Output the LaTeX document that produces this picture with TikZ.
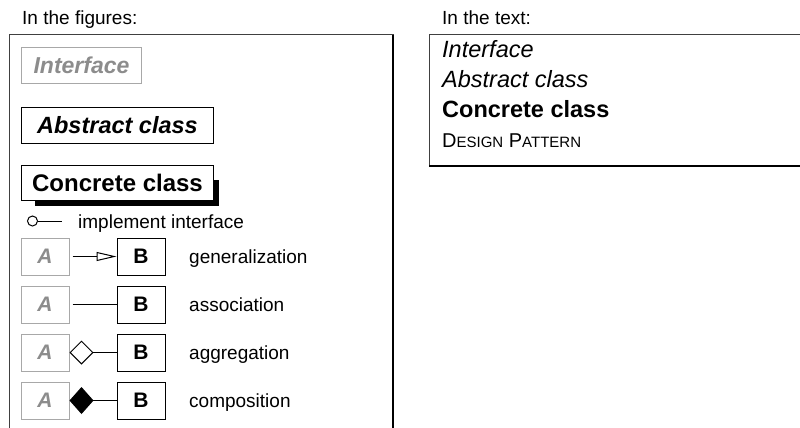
\documentclass[tikz,border=0pt]{standalone}
\usepackage{fontspec}
\setmainfont{Liberation Sans}
\usepackage{tikz}
\usetikzlibrary{arrows.meta, positioning, backgrounds, calc}
\definecolor{ifacegray}{HTML}{8C8C8C}
\definecolor{ifaceline}{HTML}{A8A8A8}

\begin{document}
\begin{tikzpicture}[x=1pt, y=-1pt,
    heading/.style={anchor=base west, inner sep=0pt, font=\fontsize{19}{22}\selectfont},
    iface/.style={draw=ifaceline, text=ifacegray, line width=1pt, minimum height=36pt,
                  anchor=north west, font=\fontsize{23}{26}\selectfont\bfseries\itshape},
    absclass/.style={draw, line width=1pt, fill=white, minimum height=36pt,
                     anchor=north west, font=\fontsize{23.5}{26}\selectfont\bfseries\itshape},
    concclass/.style={absclass, minimum height=35pt, font=\fontsize{24}{26}\selectfont\bfseries},
    abox/.style={draw=ifaceline, text=ifacegray, line width=1pt, minimum width=48pt,
                 minimum height=37pt, font=\fontsize{21}{24}\selectfont\bfseries\itshape},
    bbox/.style={draw, line width=1pt, minimum width=48pt, minimum height=37pt,
                 font=\fontsize{21}{24}\selectfont\bfseries},
    relname/.style={anchor=base west, inner sep=0pt, font=\fontsize{19}{22}\selectfont},
    textline/.style={anchor=base west, inner sep=0pt, font=\fontsize{23.5}{26}\selectfont},
    rel/.style={line width=1pt},
]
    \useasboundingbox (0,0) rectangle (800,428);
    \clip (0,0) rectangle (800,428);

    % panels, with a heavy edge on the shadow side
    \draw[line width=1pt, black!75] (9,35) rectangle (393,440);
    \draw[line width=2.5pt] (393,35) -- (393,440);
    \draw[line width=1pt, black!75] (429,35) rectangle (810,166);
    \draw[line width=2.5pt] (429,166) -- (810,166);

    \node[heading] (figtitle) at (22,25) {In the figures:};
    \node[heading] (txttitle) at (442,25) {In the text:};

    % class boxes
    \node[iface, minimum width=120pt] (iface) at (21,47) {Interface};
    \node[absclass, minimum width=192pt] (abstract) at (21,107) {Abstract class};
    \node[concclass, minimum width=192pt] (concrete) at (21,165) {Concrete class};
    \begin{scope}[on background layer]
        \fill ($(concrete.south west)+(14,5)$) rectangle ($(concrete.north east)+(5,15)$);
    \end{scope}

    % lollipop
    \node[circle, draw, line width=1pt, inner sep=0pt, minimum size=10pt] (lolly) at (32.5,221) {};
    \coordinate (lollyend) at (62,221);
    \draw[rel] (lolly) -- (lollyend);
    \node[relname] (impl) at (78,228) {implement interface};

    % relations between A and B
    \foreach \kind [count=\i] in {generalization, association, aggregation, composition} {
        \node[abox] (a\i) at (45, 208.5+48*\i) {A};
        \node[bbox] (b\i) at (141, 208.5+48*\i) {B};
        \node[relname] (r\i) at (189, 215+48*\i) {\kind};
    }
    \draw[rel, shorten <=3pt, -{Triangle[open, length=20pt, width=9pt]}] (a1) -- (b1);
    \draw[rel, shorten <=3pt] (a2) -- (b2);
    \draw[rel, {Diamond[open, length=24pt, width=24pt]}-] (a3) -- (b3);
    \draw[rel, {Diamond[length=24pt, width=27pt]}-] (a4) -- (b4);

    % typesetting conventions
    \node[textline, font=\fontsize{23.5}{26}\selectfont\itshape] (tiface) at (442,58) {Interface};
    \node[textline, font=\fontsize{23.5}{26}\selectfont\itshape] (tabs) at (442,88) {Abstract class};
    \node[textline, font=\fontsize{23.5}{26}\selectfont\bfseries] (tconc) at (442,117) {Concrete class};
    \node[textline, font=\fontsize{20}{24}\selectfont] (tpat) at (442,147)
        {D{\fontsize{15}{18}\selectfont ESIGN} P{\fontsize{15}{18}\selectfont ATTERN}};
\end{tikzpicture}
\end{document}
